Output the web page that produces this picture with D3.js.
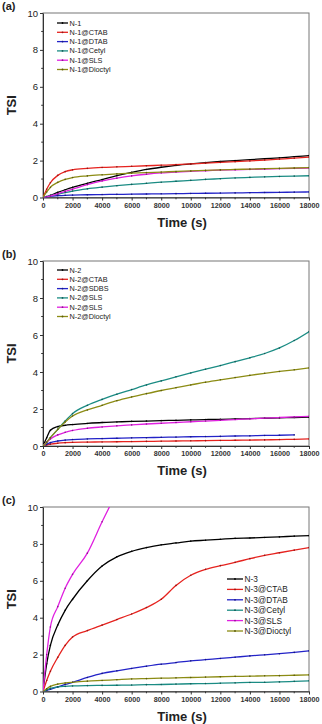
<!DOCTYPE html>
<html>
<head>
<meta charset="utf-8">
<script src="https://cdn.jsdelivr.net/npm/d3@7"></script>
<style>
  body { margin: 0; background: #fff; }
  svg { display: block; font-family: "Liberation Sans", Arial, sans-serif; }
</style>
</head>
<body>
<div id="chart"></div>
<script>
// time points (s), shared by all series
const times = [0, 250, 500, 1000, 1500, 2000, 3000, 4000, 5000, 6000, 7000, 8000, 9000,
               10000, 11000, 12000, 13000, 14000, 15000, 16000, 17000, 18000];
const x_ticks = [0, 2000, 4000, 6000, 8000, 10000, 12000, 14000, 16000, 18000];
const y_ticks = [0, 2, 4, 6, 8, 10];
const panel_tags = ['(a)', '(b)', '(c)'];
const series_colors = ['#000000', '#e6231f', '#2323c8', '#1b8c84', '#e020e0', '#8c8c14'];

// panel (a)
const names_a = ['N-1', 'N-1@CTAB', 'N-1@DTAB', 'N-1@Cetyl', 'N-1@SLS', 'N-1@Dioctyl'];
const a_n1      = [0, 0.05, 0.12, 0.28, 0.42, 0.55, 0.77, 0.97, 1.18, 1.36, 1.52, 1.64, 1.74, 1.82, 1.89, 1.95, 2.0, 2.05, 2.1, 2.15, 2.21, 2.27];
const a_ctab    = [0, 0.45, 0.8, 1.2, 1.4, 1.5, 1.58, 1.63, 1.66, 1.69, 1.72, 1.75, 1.78, 1.82, 1.86, 1.9, 1.94, 1.98, 2.03, 2.08, 2.13, 2.19];
const a_dtab    = [0, 0.04, 0.07, 0.1, 0.12, 0.13, 0.15, 0.16, 0.17, 0.18, 0.19, 0.2, 0.21, 0.22, 0.23, 0.24, 0.25, 0.26, 0.27, 0.28, 0.29, 0.3];
const a_cetyl   = [0, 0.05, 0.1, 0.18, 0.27, 0.35, 0.47, 0.56, 0.64, 0.71, 0.77, 0.83, 0.88, 0.93, 0.98, 1.02, 1.06, 1.09, 1.12, 1.14, 1.16, 1.18];
const a_sls     = [0, 0.04, 0.09, 0.2, 0.33, 0.45, 0.7, 0.9, 1.05, 1.17, 1.26, 1.33, 1.38, 1.42, 1.45, 1.48, 1.5, 1.52, 1.54, 1.56, 1.58, 1.6];
const a_dioctyl = [0, 0.3, 0.55, 0.82, 0.98, 1.08, 1.17, 1.23, 1.28, 1.32, 1.35, 1.38, 1.41, 1.44, 1.47, 1.5, 1.52, 1.54, 1.56, 1.58, 1.6, 1.62];

// panel (b)
const names_b = ['N-2', 'N-2@CTAB', 'N-2@SDBS', 'N-2@SLS', 'N-2@SLS', 'N-2@Dioctyl'];
const b_n2      = [0, 0.45, 0.85, 1.05, 1.12, 1.16, 1.22, 1.27, 1.3, 1.33, 1.35, 1.37, 1.39, 1.41, 1.43, 1.44, 1.46, 1.48, 1.5, 1.52, 1.54, 1.56];
const b_ctab    = [0, 0.06, 0.1, 0.15, 0.18, 0.2, 0.21, 0.22, 0.23, 0.24, 0.25, 0.26, 0.27, 0.28, 0.29, 0.3, 0.31, 0.32, 0.33, 0.35, 0.36, 0.38];
const b_sdbs    = [0, 0.1, 0.18, 0.27, 0.32, 0.35, 0.38, 0.4, 0.42, 0.44, 0.45, 0.47, 0.48, 0.5, 0.51, 0.52, 0.54, 0.55, 0.57, 0.58, 0.6, null];
const b_sls1    = [0, 0.2, 0.45, 0.9, 1.35, 1.75, 2.2, 2.52, 2.8, 3.05, 3.3, 3.52, 3.74, 3.95, 4.15, 4.35, 4.56, 4.77, 5.0, 5.3, 5.7, 6.18];
const b_sls2    = [0, 0.2, 0.38, 0.6, 0.74, 0.84, 0.96, 1.03, 1.09, 1.14, 1.19, 1.23, 1.27, 1.31, 1.35, 1.39, 1.43, 1.47, 1.51, 1.54, 1.57, 1.6];
const b_dioctyl = [0, 0.2, 0.45, 0.9, 1.3, 1.62, 1.95, 2.2, 2.45, 2.65, 2.83, 3.0, 3.15, 3.3, 3.45, 3.58, 3.7, 3.82, 3.93, 4.03, 4.12, 4.22];

// panel (c)
const names_c = ['N-3', 'N-3@CTAB', 'N-3@DTAB', 'N-3@Cetyl', 'N-3@SLS', 'N-3@Dioctyl'];
const c_n3      = [0, 1.5, 2.5, 3.6, 4.4, 5.0, 6.0, 6.8, 7.3, 7.6, 7.8, 7.95, 8.05, 8.15, 8.2, 8.25, 8.3, 8.32, 8.35, 8.38, 8.42, 8.45];
const c_ctab    = [0, 0.6, 1.1, 1.85, 2.5, 2.95, 3.3, 3.6, 3.9, 4.2, 4.55, 5.0, 5.75, 6.3, 6.62, 6.82, 7.0, 7.2, 7.38, 7.52, 7.66, 7.8];
const c_dtab    = [0, 0.06, 0.12, 0.25, 0.38, 0.5, 0.76, 0.98, 1.12, 1.25, 1.37, 1.48, 1.57, 1.66, 1.73, 1.79, 1.86, 1.93, 1.99, 2.05, 2.12, 2.2];
const c_cetyl   = [0, 0.1, 0.17, 0.25, 0.28, 0.3, 0.32, 0.33, 0.34, 0.35, 0.37, 0.38, 0.4, 0.42, 0.43, 0.45, 0.47, 0.49, 0.5, 0.52, 0.55, 0.58];
const c_sls     = [0, 2.0, 3.5, 4.6, 5.6, 6.35, 7.5, 9.2, 10.8, null, null, null, null, null, null, null, null, null, null, null, null, null];
const c_dioctyl = [0, 0.15, 0.28, 0.4, 0.46, 0.5, 0.56, 0.6, 0.64, 0.68, 0.7, 0.72, 0.74, 0.76, 0.78, 0.8, 0.82, 0.83, 0.85, 0.86, 0.88, 0.9];

const panels = [
    {names: names_a, values: [a_n1, a_ctab, a_dtab, a_cetyl, a_sls, a_dioctyl],
     top: 13, bottom: 197.5, legend: {x: 57, len: 11, y: 23, step: 9.3, size: 7.3}},
    {names: names_b, values: [b_n2, b_ctab, b_sdbs, b_sls1, b_sls2, b_dioctyl],
     top: 261, bottom: 446, legend: {x: 57, len: 11, y: 270, step: 9.3, size: 7.3}},
    {names: names_c, values: [c_n3, c_ctab, c_dtab, c_cetyl, c_sls, c_dioctyl],
     top: 507, bottom: 691.5, legend: {x: 227, len: 16, y: 579, step: 10.4, size: 8.3}}
];

const svg_width = 322;
const svg_height = 724;
const plot_left = 43;
const plot_right = 309;

const svg = d3.select('#chart')
    .append('svg')
    .attr('width', svg_width)
    .attr('height', svg_height);

const x_scale = d3.scaleLinear([0, 18000], [plot_left, plot_right]);

panels.forEach((p, pi) => {
    const y_scale = d3.scaleLinear([0, 10], [p.bottom, p.top]);
    const g = svg.append('g').attr('class', 'panel');

    // clip
    const clip_id = 'clip' + pi;
    g.append('clipPath').attr('id', clip_id)
        .append('rect')
        .attr('x', plot_left).attr('y', p.top)
        .attr('width', plot_right - plot_left)
        .attr('height', p.bottom - p.top);

    // frame (top/right lighter)
    g.append('rect')
        .attr('x', plot_left).attr('y', p.top)
        .attr('width', plot_right - plot_left)
        .attr('height', p.bottom - p.top)
        .attr('fill', 'none')
        .attr('stroke', '#777')
        .attr('stroke-width', 1);

    // x axis
    const x_axis = d3.axisBottom(x_scale)
        .tickValues(x_ticks)
        .tickFormat(d3.format('d'))
        .tickSizeInner(3)
        .tickSizeOuter(0)
        .tickPadding(2);
    const xg = g.append('g')
        .attr('transform', `translate(0,${p.bottom})`)
        .call(x_axis);
    xg.select('.domain').attr('stroke', '#333');
    xg.selectAll('.tick line').attr('stroke', '#333');
    xg.selectAll('.tick text')
        .attr('font-size', 7.2)
        .attr('font-weight', 'bold')
        .attr('fill', '#333')
        .attr('font-family', '"Liberation Sans", Arial, sans-serif');

    // x minor ticks
    g.append('g').selectAll('line')
        .data(d3.range(1000, 18000, 2000))
        .join('line')
        .attr('x1', d => x_scale(d)).attr('x2', d => x_scale(d))
        .attr('y1', p.bottom).attr('y2', p.bottom + 1.8)
        .attr('stroke', '#333');

    // y axis
    const y_axis = d3.axisLeft(y_scale)
        .tickValues(y_ticks)
        .tickSizeInner(3)
        .tickSizeOuter(0)
        .tickPadding(2);
    const yg = g.append('g')
        .attr('transform', `translate(${plot_left},0)`)
        .call(y_axis);
    yg.select('.domain').attr('stroke', '#333');
    yg.selectAll('.tick line').attr('stroke', '#333');
    yg.selectAll('.tick text')
        .attr('font-size', 9.5)
        .attr('fill', '#222')
        .attr('font-family', '"Liberation Sans", Arial, sans-serif');

    g.append('g').selectAll('line')
        .data([1, 3, 5, 7, 9])
        .join('line')
        .attr('x1', plot_left - 1.8).attr('x2', plot_left)
        .attr('y1', d => y_scale(d)).attr('y2', d => y_scale(d))
        .attr('stroke', '#333');

    // labels
    g.append('text')
        .attr('x', 2).attr('y', p.top - 3)
        .attr('font-size', 11).attr('font-weight', 'bold')
        .attr('fill', '#222')
        .text(panel_tags[pi]);

    g.append('text')
        .attr('transform', `translate(16,${(p.top + p.bottom) / 2}) rotate(-90)`)
        .attr('text-anchor', 'middle')
        .attr('font-size', 13).attr('font-weight', 'bold')
        .attr('fill', '#222')
        .text('TSI');

    g.append('text')
        .attr('x', (plot_left + plot_right) / 2 + 6)
        .attr('y', p.bottom + 29)
        .attr('text-anchor', 'middle')
        .attr('font-size', 13).attr('font-weight', 'bold')
        .attr('fill', '#222')
        .text('Time (s)');

    // lines
    const line = d3.line()
        .defined(d => d[1] !== null)
        .x(d => x_scale(d[0]))
        .y(d => y_scale(d[1]))
        .curve(d3.curveMonotoneX);

    const plot = g.append('g').attr('clip-path', `url(#${clip_id})`);
    p.values.forEach((vals, si) => {
        const pts = times.map((t, i) => [t, vals[i]]);
        plot.append('path')
            .datum(pts)
            .attr('fill', 'none')
            .attr('stroke', series_colors[si])
            .attr('stroke-width', 1.3)
            .attr('d', line);
        plot.append('g').selectAll('circle')
            .data(pts.filter(d => d[1] !== null))
            .join('circle')
            .attr('cx', d => x_scale(d[0]))
            .attr('cy', d => y_scale(d[1]))
            .attr('r', 0.8)
            .attr('fill', d3.color(series_colors[si]).darker(1.2));
    });

    // legend
    const lg = g.append('g');
    p.names.forEach((name, si) => {
        const y = p.legend.y + si * p.legend.step;
        lg.append('line')
            .attr('x1', p.legend.x).attr('x2', p.legend.x + p.legend.len)
            .attr('y1', y).attr('y2', y)
            .attr('stroke', series_colors[si])
            .attr('stroke-width', 1.3);
        lg.append('circle')
            .attr('cx', p.legend.x + p.legend.len / 2).attr('cy', y)
            .attr('r', 0.9)
            .attr('fill', d3.color(series_colors[si]).darker(1.2));
        lg.append('text')
            .attr('x', p.legend.x + p.legend.len + 1.5)
            .attr('y', y)
            .attr('dy', '0.35em')
            .attr('font-size', p.legend.size)
            .attr('fill', '#222')
            .text(name);
    });
});
</script>
</body>
</html>
